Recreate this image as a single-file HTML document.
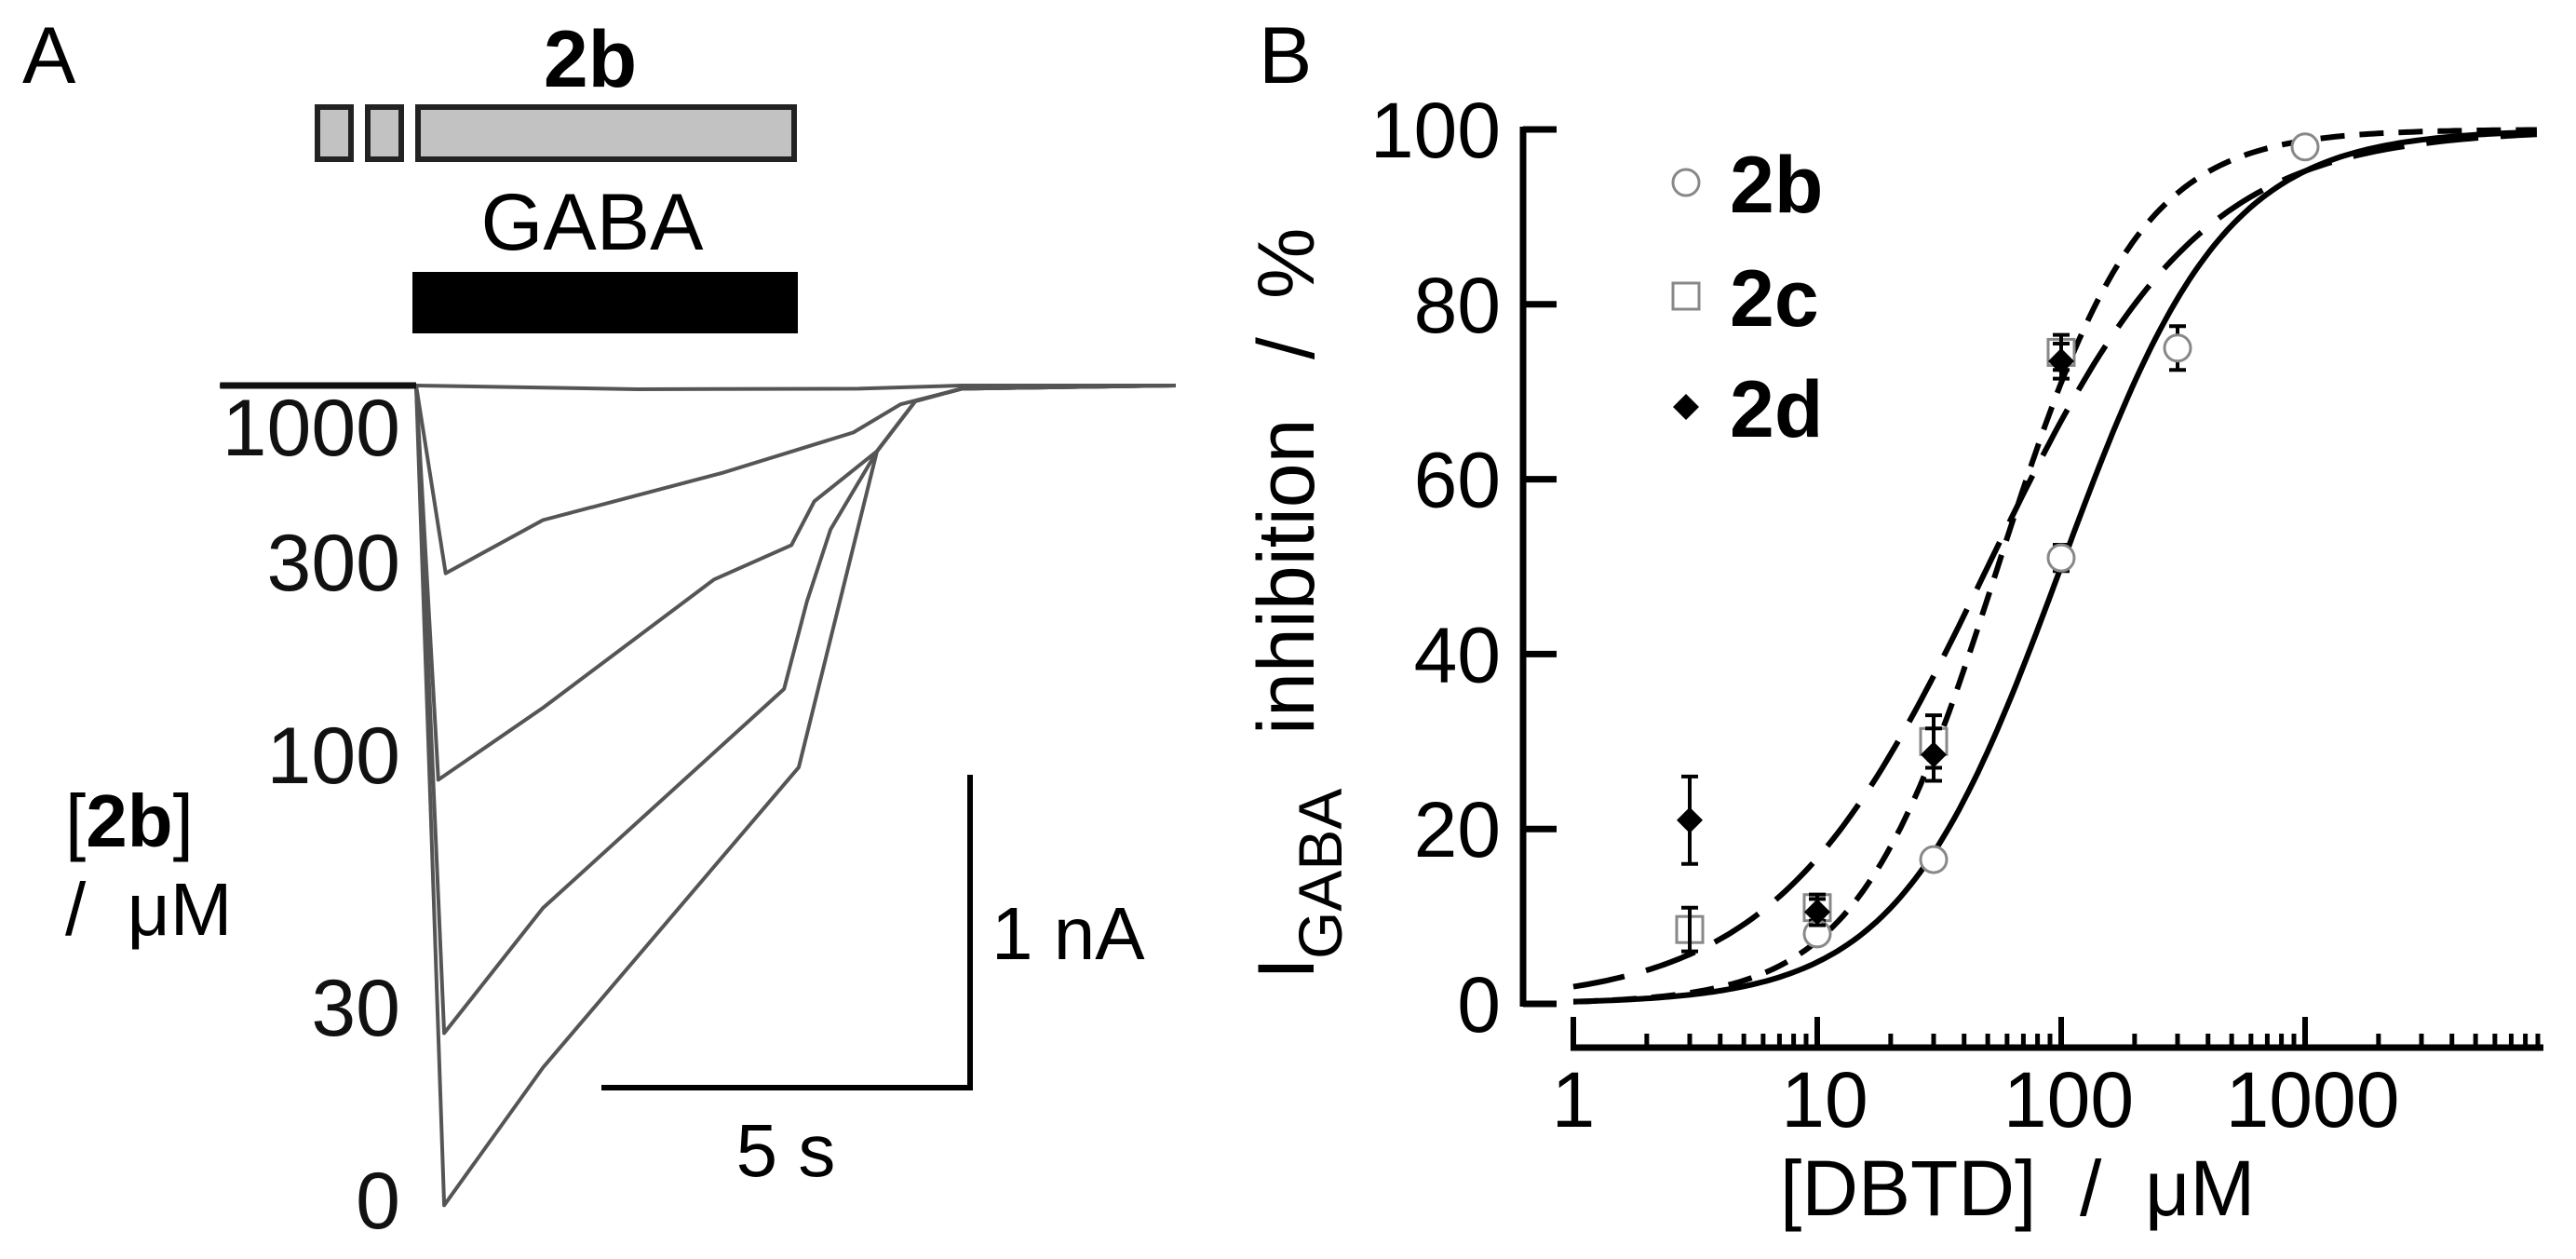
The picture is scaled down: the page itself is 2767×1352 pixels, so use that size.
<!DOCTYPE html>
<html><head><meta charset="utf-8"><style>
html,body{margin:0;padding:0;background:#fff;}
svg{display:block;font-family:"Liberation Sans",Arial,sans-serif;}
</style></head><body>
<svg id="fig" width="2767" height="1352" viewBox="0 0 2767 1352" xmlns="http://www.w3.org/2000/svg">
<rect x="0" y="0" width="2767" height="1352" fill="#fff"/>
<g>
<text x="24" y="89" font-size="86">A</text>
<text x="634" y="93" font-size="86" font-weight="bold" text-anchor="middle">2b</text>
<rect x="341" y="115" width="36" height="56" fill="#c2c2c2" stroke="#222" stroke-width="6"/>
<rect x="395" y="115" width="36" height="56" fill="#c2c2c2" stroke="#222" stroke-width="6"/>
<rect x="449" y="115" width="404" height="56" fill="#c2c2c2" stroke="#222" stroke-width="6"/>
<text x="636" y="268" font-size="86" text-anchor="middle">GABA</text>
<rect x="443" y="292" width="414" height="66" fill="#000"/>
<g id="traces"></g>
<g font-size="86" text-anchor="end" fill="#111">
<text x="430" y="489">1000</text>
<text x="430" y="634">300</text>
<text x="430" y="841">100</text>
<text x="430" y="1112">30</text>
<text x="430" y="1319">0</text>
</g>
<text x="70" y="909" font-size="80">[<tspan font-weight="bold">2b</tspan>]</text>
<text x="70" y="1004" font-size="80" xml:space="preserve">/  μM</text>
<line x1="1042" y1="832" x2="1042" y2="1171" stroke="#000" stroke-width="6"/>
<line x1="646" y1="1168" x2="1045" y2="1168" stroke="#000" stroke-width="6"/>
<text x="1065" y="1030" font-size="80">1 nA</text>
<text x="844" y="1263" font-size="80" text-anchor="middle">5 s</text>
</g>
<g>
<text x="1352" y="89" font-size="86">B</text>
<g id="axes"></g>
<text transform="translate(1411,0) rotate(-90)" font-size="86"><tspan x="-1052">I</tspan><tspan x="-1030" dy="30" font-size="66">GABA</tspan><tspan x="-789" dy="-30">inhibition</tspan><tspan x="-386">/</tspan><tspan x="-321">%</tspan></text>
<text x="1912" y="1305" font-size="84" xml:space="preserve">[DBTD]  /  μM</text>
<g id="curves"></g>
<g id="points"></g>
<g>
<circle cx="1811" cy="196" r="14" fill="#fff" stroke="#888" stroke-width="3"/>
<text x="1858" y="228" font-size="86" font-weight="bold">2b</text>
<rect x="1797" y="304" width="28" height="28" fill="#fff" stroke="#888" stroke-width="3"/>
<text x="1858" y="350" font-size="86" font-weight="bold">2c</text>
<path d="M1811 423 L1825 437 L1811 451 L1797 437 Z" fill="#000"/>
<text x="1858" y="469" font-size="86" font-weight="bold">2d</text>
</g>
</g>
</svg>
<script>
const trace300T = [-2.66, 0, 0.4, 1.72, 4.14, 5.93, 6.57, 7.4, 10.3];
const trace300I = [0, 0, 0.60, 0.43, 0.28, 0.15, 0.06, 0.01, 0];
const trace100T = [-2.66, 0, 0.30, 1.72, 4.04, 5.09, 5.40, 6.25, 6.77, 7.4, 10.3];
const trace100I = [0, 0, 1.26, 1.03, 0.62, 0.51, 0.37, 0.21, 0.05, 0.01, 0];
const trace30T = [-2.66, 0, 0.38, 1.72, 4.99, 5.30, 5.62, 6.25, 6.77, 7.4, 10.3];
const trace30I = [0, 0, 2.07, 1.67, 0.97, 0.69, 0.46, 0.21, 0.05, 0.01, 0];
const trace0T = [-2.66, 0, 0.38, 1.72, 5.19, 6.25, 6.77, 7.4, 10.3];
const trace0I = [0, 0, 2.62, 2.18, 1.22, 0.21, 0.05, 0.01, 0];
const trace1000T = [-2.66, 0, 3, 6, 7.4, 10.3];
const trace1000I = [0, 0, 0.012, 0.01, 0, 0];

const xTicks = [1, 10, 100, 1000];
const xTickLabels = ["1", "10", "100", "1000"];
const yTicks = [0, 20, 40, 60, 80, 100];
const conc2b = [10, 30, 100, 300, 1000];
const inh2b = [8, 16.5, 51, 75, 98];
const err2b = [0, 0, 1.5, 2.5, 0];
const conc2c = [3, 10, 30, 100];
const inh2c = [8.5, 11, 30, 74.5];
const err2c = [2.5, 1.5, 3, 2];
const conc2d = [3, 10, 30, 100];
const inh2d = [21, 10.5, 28.5, 73.5];
const err2d = [5, 1.5, 3, 2];
const fitIC50 = [100, 55, 50];
const fitHill = [1.3, 1.5, 1.0];
const fitDash = ["", "26 16", "56 24"];

const NS = "http://www.w3.org/2000/svg";
function mk(tag, attrs, parent) {
  const e = document.createElementNS(NS, tag);
  for (const k in attrs) e.setAttribute(k, attrs[k]);
  parent.appendChild(e);
  return e;
}
const tx = t => 447 + 79.2 * t;
const iy = i => 414 + 336 * i;
const tracesG = document.getElementById('traces');
const traceSets = [[trace1000T, trace1000I, '1000'], [trace300T, trace300I, '300'], [trace100T, trace100I, '100'], [trace30T, trace30I, '30'], [trace0T, trace0I, '0']];
traceSets.forEach(s => {
  const pts = s[0].map((t, k) => tx(t).toFixed(1) + ',' + iy(s[1][k]).toFixed(1)).join(' ');
  const pl = mk('polyline', {points: pts, fill: 'none', stroke: '#555', 'stroke-width': 4, 'stroke-linejoin': 'round'}, tracesG);
  
  
});
const bl = mk('line', {x1: tx(-2.66), y1: iy(0), x2: tx(0), y2: iy(0), stroke: '#111', 'stroke-width': 7}, tracesG);



const X0 = 1690, DEC = 262, Y0 = 1078, PY = 9.39;
const xs = v => X0 + DEC * Math.log10(v);
const ys = p => Y0 - PY * p;
const axes = document.getElementById('axes');
const yAxis = mk('line', {x1: 1636, y1: ys(100) - 3, x2: 1636, y2: ys(0) + 3, stroke: '#000', 'stroke-width': 7}, axes);


yTicks.forEach(v => {
  const t = mk('line', {x1: 1636, y1: ys(v), x2: 1672, y2: ys(v), stroke: '#000', 'stroke-width': 7}, axes);
  
  
  const l = mk('text', {x: 1612, y: ys(v) + 30, 'font-size': 84, 'text-anchor': 'end'}, axes);
  l.textContent = String(v);
  
  
});
const xAxis = mk('line', {x1: X0 - 3, y1: 1125, x2: 2732, y2: 1125, stroke: '#000', 'stroke-width': 7}, axes);


xTicks.forEach((v, k) => {
  const t = mk('line', {x1: xs(v), y1: 1092, x2: xs(v), y2: 1125, stroke: '#000', 'stroke-width': 6}, axes);
  
  
  const l = mk('text', {x: xs(v) + (k === 0 ? 0 : 8), y: 1210, 'font-size': 84, 'text-anchor': 'middle'}, axes);
  l.textContent = xTickLabels[k];
  
  
  for (let m = 2; m <= 9; m++) {
    const mt = mk('line', {x1: xs(v * m), y1: 1110, x2: xs(v * m), y2: 1125, stroke: '#000', 'stroke-width': 5}, axes);
    
    
  }
});
const curvesG = document.getElementById('curves');
const curveNames = ['fit-2b', 'fit-2c', 'fit-2d'];
fitIC50.forEach((ic, k) => {
  let d = '';
  for (let s = 0; s <= 200; s++) {
    const lv = 3.95 * s / 200;
    const c = Math.pow(10, lv);
    const p = 100 / (1 + Math.pow(ic / c, fitHill[k]));
    d += (s ? 'L' : 'M') + xs(c).toFixed(1) + ' ' + ys(p).toFixed(1);
  }
  const attrs = {d: d, fill: 'none', stroke: '#000', 'stroke-width': 6};
  if (fitDash[k]) attrs['stroke-dasharray'] = fitDash[k];
  const p = mk('path', attrs, curvesG);
  
  
});
const pointsG = document.getElementById('points');
function errbar(x, y, e) {
  if (!e) return;
  const g = mk('g', {stroke: '#000', 'stroke-width': 4}, pointsG);
  
  
  mk('line', {x1: x, y1: ys(y + e), x2: x, y2: ys(y - e)}, g);
  mk('line', {x1: x - 9, y1: ys(y + e), x2: x + 9, y2: ys(y + e)}, g);
  mk('line', {x1: x - 9, y1: ys(y - e), x2: x + 9, y2: ys(y - e)}, g);
}
conc2c.forEach((c, k) => {
  const x = xs(c), y = ys(inh2c[k]);
  const r = mk('rect', {x: x - 14, y: y - 14, width: 28, height: 28, fill: '#fff', stroke: '#888', 'stroke-width': 3}, pointsG);
  
  
  errbar(x, inh2c[k], err2c[k]);
});
conc2b.forEach((c, k) => {
  const x = xs(c), y = ys(inh2b[k]);
  errbar(x, inh2b[k], err2b[k]);
  const r = mk('circle', {cx: x, cy: y, r: 14, fill: '#fff', stroke: '#888', 'stroke-width': 3}, pointsG);
  
  
});
conc2d.forEach((c, k) => {
  const x = xs(c), y = ys(inh2d[k]);
  errbar(x, inh2d[k], err2d[k]);
  const r = mk('path', {d: `M${x} ${y - 14} L${x + 14} ${y} L${x} ${y + 14} L${x - 14} ${y} Z`, fill: '#000'}, pointsG);
  
  
});
</script>
</body></html>
